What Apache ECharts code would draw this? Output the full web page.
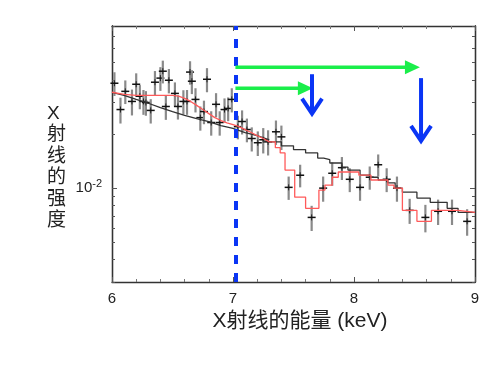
<!DOCTYPE html>
<html><head><meta charset="utf-8">
<script src="https://cdn.jsdelivr.net/npm/echarts@6/dist/echarts.min.js"></script>
<style>html,body{margin:0;padding:0;background:#fff}#c{width:495px;height:365px}</style>
</head><body><div id="c"></div>
<script>
// Observed spectrum (keV, intensity, 1-sigma error)
const energy = [6.02,6.07,6.11,6.165,6.20,6.23,6.26,6.28,6.32,6.355,6.40,6.42,6.445,6.47,6.52,6.545,6.59,6.62,6.645,6.66,6.69,6.73,6.76,6.785,6.82,6.86,6.89,6.93,6.96,6.99,7.04,7.075,7.115,7.155,7.205,7.25,7.29,7.355,7.40,7.46,7.555,7.65,7.745,7.82,7.90,7.965,8.05,8.13,8.20,8.27,8.355,8.46,8.59,8.695,8.81,8.935];
const intensity = [0.0384,0.0274,0.0346,0.0304,0.0379,0.0325,0.0304,0.0300,0.0271,0.0389,0.0410,0.0448,0.0285,0.0399,0.0337,0.0285,0.0304,0.0304,0.0443,0.0394,0.0312,0.0247,0.0267,0.0404,0.0232,0.0293,0.0232,0.0274,0.0278,0.0312,0.0220,0.0235,0.0212,0.0189,0.0179,0.0186,0.0181,0.0206,0.0193,0.0101,0.0118,0.00687,0.0100,0.0121,0.0130,0.0112,0.0101,0.0115,0.0135,0.0112,0.0100,0.00752,0.00687,0.00743,0.00743,0.00653];
const intensityErr = [0.0058,0.0045,0.0052,0.0050,0.0057,0.0050,0.0048,0.0047,0.0042,0.0060,0.0062,0.0065,0.0045,0.0062,0.0051,0.0044,0.0047,0.0048,0.0066,0.0060,0.0048,0.0038,0.0040,0.0062,0.0036,0.0045,0.0036,0.0042,0.0042,0.0048,0.0033,0.0036,0.0032,0.0029,0.0028,0.0030,0.0029,0.0032,0.0030,0.0015,0.0017,0.0011,0.0016,0.0018,0.0019,0.0017,0.0016,0.0017,0.0019,0.0017,0.0016,0.0012,0.0012,0.0012,0.0012,0.0011];

// Continuum model (black)
const contSmoothE = [6.0,6.1,6.2,6.3,6.4,6.5,6.6,6.7,6.8,6.9,7.0,7.1,7.2,7.3];
const contSmooth  = [0.0342,0.0329,0.0312,0.0297,0.0281,0.0267,0.0254,0.0244,0.0235,0.0223,0.0215,0.0204,0.0196,0.0186];
const contStepE = [7.3,7.4,7.5,7.6,7.7,7.75,7.8,7.9,7.95,8.05,8.13,8.2,8.28,8.34,8.40,8.52,8.63,8.77,8.86,9.0];
const contStep  = [0.0181,0.0172,0.0164,0.0157,0.0147,0.0144,0.0138,0.0131,0.0126,0.0118,0.0115,0.0111,0.0107,0.0100,0.0095,0.0088,0.00834,0.00772,0.00733,0.00733];

// Model with absorption lines (red)
const absSmoothE = [6.0,6.1,6.2,6.3,6.4,6.5,6.55,6.6,6.65,6.7,6.75,6.8,6.85,6.9,6.95,7.0,7.05,7.1,7.15,7.2,7.25,7.3];
const absSmooth  = [0.0342,0.0333,0.0329,0.0329,0.0329,0.0329,0.0325,0.0316,0.0304,0.0289,0.0274,0.0260,0.0247,0.0238,0.0231,0.0226,0.0220,0.0212,0.0204,0.0196,0.0189,0.0181];
const absStepE = [7.3,7.35,7.39,7.43,7.51,7.6,7.71,7.76,7.82,7.87,8.0,8.04,8.14,8.28,8.33,8.40,8.52,8.64,8.86,9.0];
const absStep  = [0.0181,0.0168,0.0157,0.0126,0.0089,0.00772,0.00975,0.0104,0.0115,0.0123,0.0123,0.0118,0.0111,0.0104,0.0100,0.00752,0.00653,0.00752,0.00733,0.00733];

// Annotations (keV, intensity)
const edgeEnergy = 7.02;
const greenArrows = [[7.02,0.0472,8.545,0.0472],[7.02,0.0360,7.66,0.0360]];
const blueArrows  = [[7.653,0.0431,7.653,0.0257],[8.554,0.0410,8.554,0.0181]];

// Axis ticks and titles
const yMajorTicks = [0.01];
const yMinorTicks = [0.003,0.004,0.005,0.006,0.007,0.008,0.009,0.02,0.03,0.04,0.05,0.06,0.07,0.08];
const yMin = 0.003, yMax = 0.08;
const xTitle = 'X射线的能量 (keV)';
const yTitle = 'X射线的强度';

const L = Math.log10;
const pts = energy.map((e,i)=>[e, L(intensity[i]), L(intensity[i]-intensityErr[i]), L(intensity[i]+intensityErr[i])]);
const pair = (xs,ys)=>xs.map((x,i)=>[x, L(ys[i])]);

const font = '"Liberation Sans", Arial, "Noto Sans CJK SC", sans-serif';
const cjk = '"Liberation Sans", "Noto Sans CJK SC", sans-serif';
const frame = '#333';

function yAx(pos, ticks, len, labels){
  return {
    type:'value', position:pos, min:L(yMin), max:L(yMax),
    axisLine:{show:true, lineStyle:{color:frame, width:1.3}},
    axisTick:{show:true, inside:true, length:len, customValues:ticks.map(L), lineStyle:{color:'#555', width:1}},
    axisLabel: labels ? {show:true, customValues:ticks.map(L), margin:10, fontFamily:font, color:'#222',
        formatter:()=>'{a|10}{b|-2}',
        rich:{a:{fontSize:15, lineHeight:20, fontFamily:font, color:'#222'}, b:{fontSize:11, lineHeight:11, verticalAlign:'top', fontFamily:font, color:'#222'}}} : {show:false},
    splitLine:{show:false}
  };
}

const chart = echarts.init(document.getElementById('c'), null, {renderer:'canvas'});
chart.setOption({
  animation:false,
  backgroundColor:'#fff',
  grid:{left:112, right:20, top:26, bottom:83},
  graphic:[{type:'text', left:47, top:103, style:{text:yTitle.split('').join('\n'), font:'19px ' + cjk, lineHeight:21.5, fill:'#222', align:'center'}}],
  xAxis:[
    {type:'value', min:6, max:9, interval:1, position:'bottom',
     name:xTitle, nameLocation:'middle', nameGap:27,
     nameTextStyle:{fontSize:21, fontFamily:cjk, color:'#222', padding:[0,0,0,13]},
     axisLine:{lineStyle:{color:frame, width:1.3}},
     axisTick:{inside:true, length:5, lineStyle:{color:'#555'}},
     minorTick:{show:true, splitNumber:5, length:3, lineStyle:{color:'#777'}},
     axisLabel:{fontSize:15, fontFamily:font, color:'#222', margin:9},
     splitLine:{show:false}},
    {type:'value', min:6, max:9, interval:1, position:'top',
     axisLine:{lineStyle:{color:frame, width:1.3}},
     axisTick:{inside:true, length:5, lineStyle:{color:'#555'}},
     minorTick:{show:true, splitNumber:5, length:3, lineStyle:{color:'#777'}},
     axisLabel:{show:false}, splitLine:{show:false}}
  ],
  yAxis:[
    yAx('left', yMajorTicks, 5, true),
    yAx('left', yMinorTicks, 3, false),
    yAx('right', yMajorTicks, 5, false),
    yAx('right', yMinorTicks, 3, false)
  ],
  series:[
    {type:'custom', name:'data', xAxisIndex:0, yAxisIndex:0, data:pts, z:2,
     renderItem:(p,api)=>{
       const c = api.coord([api.value(0), api.value(1)]);
       const lo = api.coord([api.value(0), api.value(2)]);
       const hi = api.coord([api.value(0), api.value(3)]);
       return {type:'group', children:[
         {type:'line', shape:{x1:c[0], y1:hi[1], x2:c[0], y2:lo[1]}, style:{stroke:'#8a8a8a', lineWidth:2.2}},
         {type:'line', shape:{x1:c[0], y1:c[1]-3, x2:c[0], y2:c[1]+3}, style:{stroke:'#222', lineWidth:1}},
         {type:'line', shape:{x1:c[0]-4, y1:c[1], x2:c[0]+4, y2:c[1]}, style:{stroke:'#111', lineWidth:1.5}}
       ]};
     }},
    {type:'line', data:pair(contSmoothE, contSmooth), showSymbol:false, smooth:false, lineStyle:{color:'#333', width:1.3}, z:3},
    {type:'line', data:pair(contStepE, contStep), step:'end', showSymbol:false, lineStyle:{color:'#333', width:1.3}, z:3},
    {type:'line', data:pair(absSmoothE, absSmooth), showSymbol:false, smooth:false, lineStyle:{color:'#ff5a5a', width:1.3}, z:4},
    {type:'line', data:pair(absStepE, absStep), step:'end', showSymbol:false, lineStyle:{color:'#ff5a5a', width:1.3}, z:4,
     markLine:{silent:true, symbol:['none','none'], label:{show:false},
       lineStyle:{color:'#0a35f5', width:4, type:[9,9]},
       data:[{xAxis:edgeEnergy}]}},
    {type:'custom', data:greenArrows.map(a=>[a[0],L(a[1]),a[2],L(a[3])]), z:6, clip:false,
     renderItem:(p,api)=>{
       const s = api.coord([api.value(0), api.value(1)]);
       const e = api.coord([api.value(2), api.value(3)]);
       const hl = 15, hw = 7;
       return {type:'group', children:[
         {type:'line', shape:{x1:s[0], y1:s[1], x2:e[0]-hl+2, y2:e[1]}, style:{stroke:'#1aee4a', lineWidth:3.5}},
         {type:'polygon', shape:{points:[[e[0],e[1]],[e[0]-hl,e[1]-hw],[e[0]-hl,e[1]+hw]]}, style:{fill:'#1aee4a'}}
       ]};
     }},
    {type:'custom', data:blueArrows.map(a=>[a[0],L(a[1]),a[2],L(a[3])]), z:6, clip:false,
     renderItem:(p,api)=>{
       const s = api.coord([api.value(0), api.value(1)]);
       const e = api.coord([api.value(2), api.value(3)]);
       return {type:'group', children:[
         {type:'line', shape:{x1:s[0], y1:s[1], x2:e[0], y2:e[1]-2}, style:{stroke:'#0a35f5', lineWidth:4}},
         {type:'polyline', shape:{points:[[e[0]-10,e[1]-16],[e[0],e[1]-1],[e[0]+10,e[1]-16]]}, style:{stroke:'#0a35f5', lineWidth:4, fill:null}}
       ]};
     }}
  ]
});
</script>
</body></html>
